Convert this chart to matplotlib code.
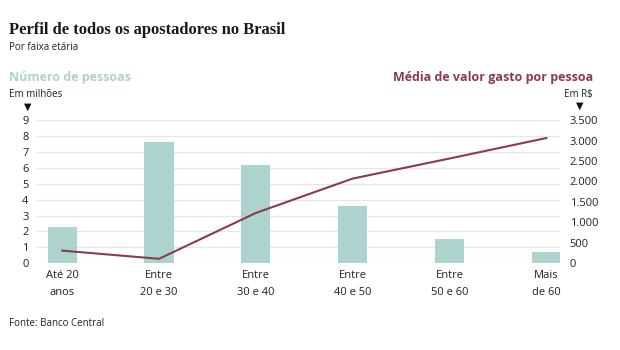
import numpy as np
import matplotlib.pyplot as plt
from matplotlib.ticker import FuncFormatter

faixas = ['Até 20\nanos', 'Entre\n20 e 30', 'Entre\n30 e 40',
          'Entre\n40 e 50', 'Entre\n50 e 60', 'Mais\nde 60']
pessoas_mi = [2.3, 7.6, 6.2, 3.6, 1.5, 0.7]        # milhões de apostadores
gasto_medio = [310, 110, 1230, 2070, 2560, 3060]    # R$ por pessoa

BAR_C  = '#acd3cd'
LINE_C = '#8b3a56'
GRID_C = '#e6e6e6'
SANS   = 'Open Sans'

fig = plt.figure(figsize=(6.2, 3.5), dpi=100)
ax = fig.add_axes([0.0597, 0.2477, 0.8433, 0.4093])
ax2 = ax.twinx()

x = np.arange(len(faixas))
ax.bar(x, pessoas_mi, width=0.30, color=BAR_C, zorder=2)
ax2.plot(x, gasto_medio, color=LINE_C, lw=1.5, zorder=3)

ax.set_xlim(-0.26, 5.14)
ax.set_ylim(0, 9)
ax.set_yticks(range(0, 10))
ax2.set_ylim(0, 3500)
ax2.set_yticks(range(0, 3501, 500))
ax2.yaxis.set_major_formatter(FuncFormatter(lambda v, p: f'{int(v):,}'.replace(',', '.')))

ax.grid(axis='y', color=GRID_C, lw=0.9, zorder=0)
ax.set_axisbelow(True)
for a in (ax, ax2):
    for s in a.spines.values():
        s.set_visible(False)
    a.tick_params(length=0, labelsize=8, colors='#222222')
    for lab in a.get_yticklabels():
        lab.set_fontfamily(SANS)
ax.tick_params(axis='y', pad=6)
ax2.tick_params(axis='y', pad=7)
ax.set_xticks(x)
ax.set_xticklabels(faixas, fontfamily=SANS, fontsize=8, linespacing=1.75)
ax.tick_params(axis='x', pad=5)

# títulos e legendas dos eixos
fig.text(9 / 620, 1 - 30 / 350, 'Perfil de todos os apostadores no Brasil',
         fontsize=12, fontweight='bold', family='Liberation Serif', va='center', color='#1a1a1a')
fig.text(9 / 620, 1 - 47 / 350, 'Por faixa etária', fontsize=7, family=SANS,
         va='center', color='#222222')
fig.text(9 / 620, 1 - 78 / 350, 'Número de pessoas', fontsize=9, family=SANS,
         fontweight='bold', va='center', color=BAR_C)
fig.text(9 / 620, 1 - 95 / 350, 'Em milhões', fontsize=7, family=SANS,
         va='center', color='#222222')
fig.text(28 / 620, 1 - 107 / 350, '▼', fontsize=7, ha='center', va='center', color='#111111')
fig.text(593 / 620, 1 - 78 / 350, 'Média de valor gasto por pessoa', fontsize=9,
         family=SANS, fontweight='bold', ha='right', va='center', color=LINE_C)
fig.text(593 / 620, 1 - 94 / 350, 'Em R$', fontsize=7, family=SANS,
         ha='right', va='center', color='#222222')
fig.text(580 / 620, 1 - 106 / 350, '▼', fontsize=7, ha='center', va='center', color='#111111')
fig.text(9 / 620, 1 - 324 / 350, 'Fonte: Banco Central', fontsize=7, family=SANS,
         va='center', color='#222222')

fig.savefig('out.png', dpi=100)
